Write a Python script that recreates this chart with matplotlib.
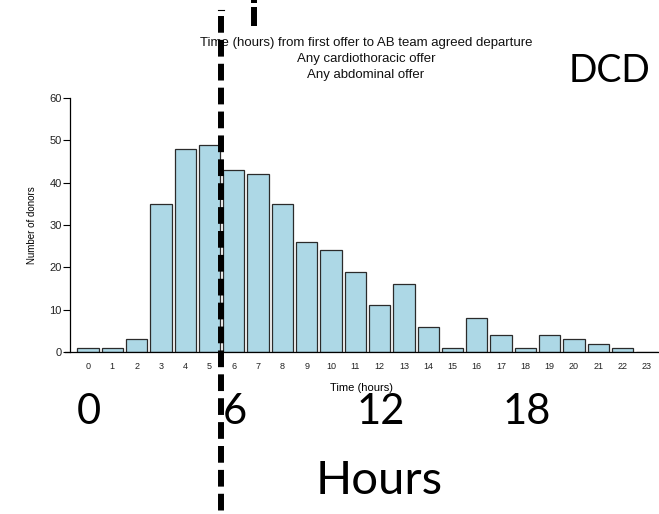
import matplotlib
matplotlib.use("Agg")
import matplotlib.pyplot as plt
from matplotlib.lines import Line2D

# histogram data
hours = list(range(24))
donors = [1, 1, 3, 35, 48, 49, 43, 42, 35, 26, 24, 19, 11, 16, 6, 1, 8, 4, 1, 4, 3, 2, 1, 0]
y_ticks = [0, 10, 20, 30, 40, 50, 60]
title_lines = ["Time (hours) from first offer to AB team agreed departure",
               "Any cardiothoracic offer",
               "Any abdominal offer"]
big_labels = ["0", "6", "12", "18"]
big_label_pos = [0, 6, 12, 18]

W, H = 659, 514
CHART_FONT = ["Liberation Sans", "DejaVu Sans"]
SLIDE_FONT = ["Lato", "DejaVu Sans"]

fig = plt.figure(figsize=(W / 100, H / 100), dpi=100)

# axes placed in pixel terms: left 65, right edge, y=0 at 352, y=60 at 98
x0_px, step_px = 88.0, 24.3
ax = fig.add_axes([65 / W, 1 - 352 / H, 1 - 65 / W, (352 - 98) / H])
ax.bar(hours, donors, width=0.88, color="#add8e6", edgecolor="#2b2b2b", linewidth=0.9, zorder=2)
ax.set_xlim((65 - x0_px) / step_px, (W - x0_px) / step_px)
ax.set_ylim(0, 60)

for s in ["top", "right"]:
    ax.spines[s].set_visible(False)
ax.spines["left"].set_position(("data", (70 - x0_px) / step_px))
ax.spines["left"].set_bounds(0, 60)
ax.spines["left"].set_linewidth(0.9)
ax.spines["bottom"].set_linewidth(0.9)

ax.set_yticks(y_ticks)
ax.set_xticks(hours)
ax.set_xticklabels([str(h) for h in hours], family=CHART_FONT, fontsize=6.5, color="#222222")
ax.set_yticklabels([str(t) for t in y_ticks], family=CHART_FONT, fontsize=8, color="#222222")
ax.tick_params(axis="x", length=0, pad=7)
ax.tick_params(axis="y", length=5, width=0.8, pad=1)

ax.set_xlabel("Time (hours)", family=CHART_FONT, fontsize=8, labelpad=9)
ax.set_ylabel("Number of donors", family=CHART_FONT, fontsize=7, labelpad=9)

# three-line title
for i, line in enumerate(title_lines):
    fig.text(366 / W, 1 - (43 + 16 * i) / H, line, ha="center", va="center",
             family=CHART_FONT, fontsize=9.5, color="#111111")

# slide overlay text
fig.text(610 / W, 1 - 71 / H, "DCD", ha="center", va="center", family=SLIDE_FONT, fontsize=27)
tr = ax.get_xaxis_transform()
for lab, pos in zip(big_labels, big_label_pos):
    ax.text(pos + 0.05, -0.235, lab, transform=tr, ha="center", va="center",
            family=SLIDE_FONT, fontsize=30, clip_on=False)
fig.text(379 / W, 1 - 481 / H, "Hours", ha="center", va="center", family=SLIDE_FONT, fontsize=34)

# thick dashed marker lines drawn over the whole slide
lw = 4.3
fig.add_artist(Line2D([221 / W, 221 / W], [1 - 16 / H, 0], transform=fig.transFigure,
                      color="black", linewidth=lw, dashes=(2.8, 1.2), solid_capstyle="butt",
                      dash_capstyle="butt", zorder=10))
fig.add_artist(Line2D([218 / W, 224 / W], [1 - 10 / H, 1 - 10 / H], transform=fig.transFigure,
                      color="black", linewidth=0.8, zorder=10))
fig.add_artist(Line2D([254 / W, 254 / W], [1 - 7 / H, 1 - 26 / H], transform=fig.transFigure,
                      color="black", linewidth=lw, solid_capstyle="butt", zorder=10))
fig.add_artist(Line2D([254 / W, 254 / W], [1.0, 1 - 3 / H], transform=fig.transFigure,
                      color="black", linewidth=lw, solid_capstyle="butt", zorder=10))

fig.savefig("out.png", dpi=100)
